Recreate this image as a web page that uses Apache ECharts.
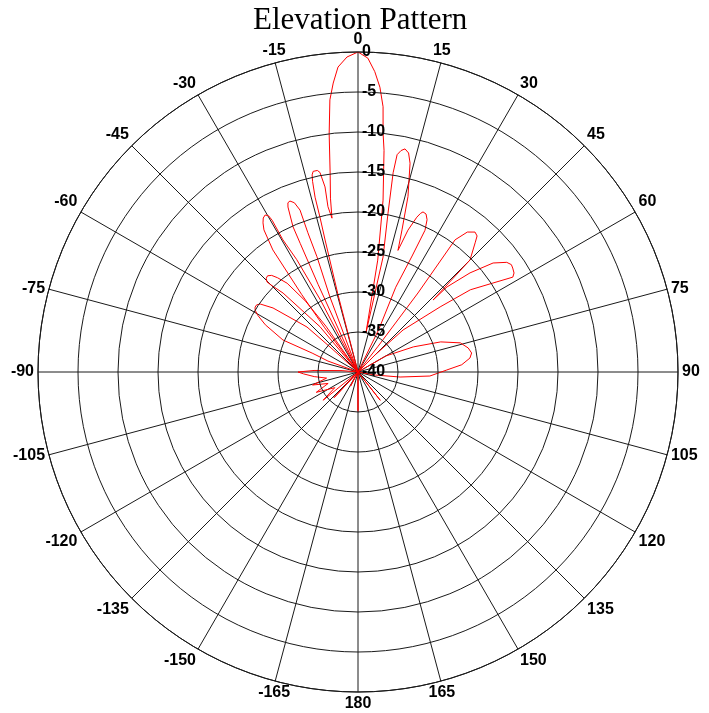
<!DOCTYPE html>
<html>
<head>
<meta charset="utf-8">
<script src="https://cdn.jsdelivr.net/npm/echarts@6/dist/echarts.min.js"></script>
<style>
html,body{margin:0;padding:0;background:#fff;}
#chart{width:709px;height:713px;}
</style>
</head>
<body>
<div id="chart"></div>
<script>
// Elevation pattern: angle (deg, 0 = top, clockwise) and gain (dB)
const angles = [
  -180,-178,-160,-152,-147,-140,-137,-134,-129,-124,-116,-111,-106,-101,-96,-92,-90,-88,-85,-80,-74,
  -70,-68.5,-67.6,-66.9,-63,-60.5,-59,-57.8,-56.5,-55.2,-53,-48.6,-48.2,-47,
  -40,-40,-43.5,-45,-45.3,-44.4,-43.2,-41.8,-40.5,-38.6,-36.5,-35,-34,
  -37,-36,-34.9,-33.5,-32.5,-31.6,-30.6,-29.8,-29.5,-29.6,-28.6,-27.5,-26,
  -22,-20.5,-19.6,-19.8,-19.7,-20.6,-21.7,-22.5,-23,-24.1,-24.2,-24.5,-24,
  -15,-14.5,-14,-13.8,-13.8,-13.4,-13.1,-12.6,-12,-11.4,-10.8,-10.1,-10.3,-9.6,
  -9,-8,-6.9,-5.9,-4.9,-3.75,-2,0,1.8,3.2,4.4,5.4,6,6.7,8.3,10,11.5,
  12.3,10.7,10,10.2,11,11.9,13,14,15.9,17.2,18.2,
  19.4,20.8,21.5,22.1,23.3,24.4,25.3,25,24,26,30,
  38,37.2,36.3,38,39.9,41.2,42.2,45,46.2,
  46.3,48.5,51.1,53.6,55,56.1,57.6,58.5,56.6,53.8,51.6,47,45,50,
  60,65.6,70,74.1,77.7,80.5,82.9,86,88.7,93.2,96.8,100,105,
  120,135,141.8,145,160,175,180
];
const gains = [
  -35,-40,-40,-38,-40,-40,-35.6,-40,-34.4,-36.5,-34.2,-36,-34.1,-36,-34.5,-33.2,-32.5,-34.5,-38,-40,-40,
  -36,-34.9,-33.8,-29.8,-27,-25.6,-25,-24.8,-24.8,-25.1,-26.7,-31.5,-35.3,-40,
  -40,-32.6,-26.4,-24.6,-24,-23.6,-23.5,-23.8,-24.5,-25.8,-29,-33,-40,
  -33,-28,-21.4,-18.7,-17.9,-17.4,-17.2,-17.5,-18.2,-21,-24,-30,-40,
  -40,-30,-24.7,-21.5,-18.5,-17.4,-17,-17.1,-17.6,-20.1,-22.4,-28,-40,
  -40,-30,-23,-20,-17.5,-15.5,-14.7,-14.3,-14.2,-14.3,-14.6,-16.5,-19,-20.5,
  -18,-15,-10,-5.8,-3.75,-1.8,-0.6,0,-0.75,-2.4,-4.3,-6.7,-10,-12.1,-18.3,-25.8,-35,
  -25.3,-19.8,-14.7,-12.4,-11.8,-11.5,-11.9,-13.1,-17.2,-21.4,-24,
  -21.2,-19.3,-18.7,-18.4,-18.5,-19.1,-20.4,-24,-28.4,-34,-40,
  -36,-27.6,-19.5,-17.8,-17.2,-17.4,-18.2,-20.2,-27,
  -24.6,-21.3,-18.3,-16.9,-16.6,-16.7,-16.9,-17.3,-19.8,-22.6,-26.9,-32.3,-37,-40,
  -36,-32.4,-29,-26.7,-25.9,-25.6,-25.9,-27,-28.9,-31,-34.7,-37.8,-40,
  -40,-40,-35.5,-40,-40,-40,-35.2
];
const titleText = 'Elevation Pattern';
const rMin = -40, rMax = 0, rStep = 5;
const aStep = 15;

const seriesData = angles.map((a, i) => [gains[i], a < 0 ? a + 360 : a]);

const chart = echarts.init(document.getElementById('chart'), null, {renderer: 'canvas'});
const labelFont = {color: '#000', fontFamily: 'Liberation Sans, Arial, sans-serif', fontWeight: 'bold', fontSize: 16};
chart.setOption({
  animation: false,
  backgroundColor: '#fff',
  title: {
    text: titleText, left: 248, top: 0,
    textStyle: {fontFamily: 'Liberation Serif, Times New Roman, serif', fontWeight: 'normal', fontSize: 31, color: '#000'}
  },
  polar: {center: [358, 372], radius: 320},
  angleAxis: {
    type: 'value', min: 0, max: 360, interval: aStep, startAngle: 90, clockwise: true,
    axisLine: {show: true, lineStyle: {color: '#111', width: 1}},
    axisTick: {show: false},
    splitLine: {show: true, lineStyle: {color: '#1a1a1a', width: 1}},
    axisLabel: Object.assign({margin: 4, formatter: v => (v >= 360 ? '' : String(v > 180 ? v - 360 : v))}, labelFont)
  },
  radiusAxis: {
    type: 'value', min: rMin, max: rMax, interval: rStep,
    axisLine: {show: false}, axisTick: {show: false},
    splitLine: {show: true, lineStyle: {color: '#1a1a1a', width: 1}},
    axisLabel: Object.assign({margin: -4, align: 'left', verticalAlign: 'middle'}, labelFont),
    z: 10
  },
  series: [{
    type: 'line', coordinateSystem: 'polar', data: seriesData,
    symbol: 'none', smooth: false, clip: false,
    lineStyle: {color: '#ff0000', width: 1}, z: 3
  }]
});
</script>
</body>
</html>
